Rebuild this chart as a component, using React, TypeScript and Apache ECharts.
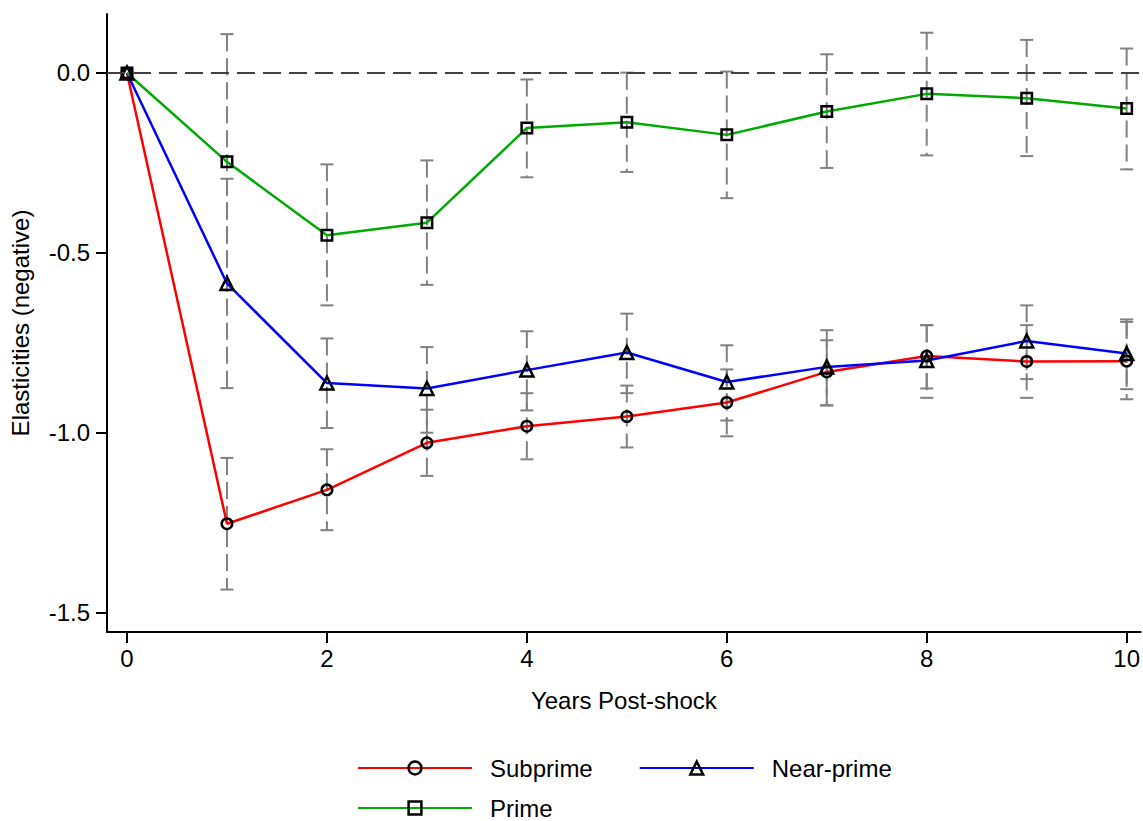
import React, { useEffect, useRef } from 'react';
import * as echarts from 'echarts';

const years = [0, 1, 2, 3, 4, 5, 6, 7, 8, 9, 10];
const xTicks = [0, 2, 4, 6, 8, 10];
const yTicks = [0, -0.5, -1, -1.5];

const subprime = [0, -1.253, -1.159, -1.028, -0.982, -0.955, -0.916, -0.831, -0.787, -0.802, -0.801];
const subprimeLow = [0, -1.436, -1.271, -1.12, -1.074, -1.041, -1.01, -0.924, -0.877, -0.903, -0.907];
const subprimeHigh = [0, -1.07, -1.046, -0.936, -0.89, -0.869, -0.824, -0.743, -0.701, -0.701, -0.692];

const nearPrime = [0, -0.585, -0.862, -0.877, -0.826, -0.777, -0.859, -0.817, -0.799, -0.745, -0.78];
const nearPrimeLow = [0, -0.876, -0.987, -1.0, -0.938, -0.89, -0.966, -0.924, -0.903, -0.851, -0.879];
const nearPrimeHigh = [0, -0.294, -0.738, -0.762, -0.718, -0.669, -0.757, -0.715, -0.701, -0.646, -0.685];

const prime = [0, -0.247, -0.451, -0.416, -0.153, -0.137, -0.172, -0.107, -0.058, -0.07, -0.099];
const primeLow = [0, -0.602, -0.646, -0.589, -0.29, -0.275, -0.348, -0.264, -0.229, -0.231, -0.268];
const primeHigh = [0, 0.108, -0.254, -0.243, -0.018, 0.001, 0.004, 0.052, 0.112, 0.092, 0.068];

const FONT = '"Liberation Sans", Arial, sans-serif';

export default function App() {
  const ref = useRef<HTMLDivElement>(null);
  useEffect(() => {
    document.body.style.margin = '0';
    const chart = echarts.init(ref.current!, undefined, { renderer: 'svg' });

    const ciData: number[][] = [];
    const groups = [
      [subprimeLow, subprimeHigh],
      [nearPrimeLow, nearPrimeHigh],
      [primeLow, primeHigh],
    ];
    groups.forEach(([lo, hi]) => {
      years.forEach((x, i) => {
        if (i > 0) ciData.push([x, lo[i], hi[i]]);
      });
    });

    const pairs = (vals: number[]) => years.map((x, i) => [x, vals[i]]);
    const marker = (symbol: string, size: number) => ({
      symbol,
      symbolSize: size,
      itemStyle: { color: 'rgba(255,255,255,0)', borderColor: '#000', borderWidth: 2.5 },
    });

    const legendText = { fontSize: 24, color: '#000', fontFamily: FONT, padding: [0, 0, 0, 13] };
    const legendItemStyle = { borderColor: '#000', borderWidth: 2.5 };

    const option: any = {
      animation: false,
      textStyle: { fontFamily: FONT },
      grid: { left: 107, top: 14, right: 0, bottom: 189, containLabel: false },
      legend: [
        {
          data: ['Subprime', 'Near-prime'],
          left: 357,
          top: 756,
          padding: 0,
          itemWidth: 114,
          itemHeight: 16,
          itemGap: 46,
          itemStyle: legendItemStyle,
          textStyle: legendText,
        },
        {
          data: ['Prime'],
          left: 357,
          top: 796,
          padding: 0,
          itemWidth: 114,
          itemHeight: 16,
          itemStyle: legendItemStyle,
          textStyle: legendText,
        },
      ],
      xAxis: {
        type: 'value',
        min: -0.2,
        max: 10.14,
        name: 'Years Post-shock',
        nameLocation: 'middle',
        nameGap: 56,
        nameTextStyle: { fontSize: 24, color: '#000', fontFamily: FONT },
        axisLine: { show: true, onZero: false, lineStyle: { color: '#000', width: 2 } },
        axisTick: { show: true, length: 11, customValues: xTicks, lineStyle: { color: '#000', width: 2 } },
        axisLabel: { customValues: xTicks, fontSize: 24, color: '#000', margin: 14, fontFamily: FONT },
        splitLine: { show: false },
      },
      yAxis: {
        type: 'value',
        min: -1.554,
        max: 0.164,
        name: 'Elasticities (negative)',
        nameLocation: 'middle',
        nameGap: 75,
        nameTextStyle: { fontSize: 24, color: '#000', fontFamily: FONT },
        axisLine: { show: true, onZero: false, lineStyle: { color: '#000', width: 2 } },
        axisTick: { show: true, length: 11, customValues: yTicks, lineStyle: { color: '#000', width: 2 } },
        axisLabel: {
          customValues: yTicks,
          fontSize: 24,
          color: '#000',
          margin: 17,
          fontFamily: FONT,
          formatter: (v: number) => v.toFixed(1),
        },
        splitLine: { show: false },
      },
      series: [
        {
          name: 'ci',
          type: 'custom',
          data: ciData,
          encode: { x: 0, y: [1, 2] },
          z: 1,
          renderItem: (params: any, api: any) => {
            const x = api.value(0);
            const pLo = api.coord([x, api.value(1)]);
            const pHi = api.coord([x, api.value(2)]);
            const hw = 6.5;
            const stroke = '#808080';
            return {
              type: 'group',
              children: [
                {
                  type: 'line',
                  shape: { x1: pHi[0], y1: pHi[1], x2: pLo[0], y2: pLo[1] },
                  style: { stroke, lineWidth: 2, lineDash: [17, 7] },
                },
                {
                  type: 'line',
                  shape: { x1: pHi[0] - hw, y1: pHi[1], x2: pHi[0] + hw, y2: pHi[1] },
                  style: { stroke, lineWidth: 2 },
                },
                {
                  type: 'line',
                  shape: { x1: pLo[0] - hw, y1: pLo[1], x2: pLo[0] + hw, y2: pLo[1] },
                  style: { stroke, lineWidth: 2 },
                },
              ],
            };
          },
          markLine: {
            silent: true,
            symbol: 'none',
            label: { show: false },
            lineStyle: { color: '#404040', width: 2.2, type: [18, 8] },
            data: [{ yAxis: 0 }],
          },
        },
        {
          name: 'Subprime',
          type: 'line',
          z: 3,
          data: pairs(subprime),
          lineStyle: { color: '#ff0000', width: 2.5 },
          ...marker('circle', 10.5),
        },
        {
          name: 'Near-prime',
          type: 'line',
          z: 3,
          data: pairs(nearPrime),
          lineStyle: { color: '#0000ff', width: 2.5 },
          ...marker('triangle', 13),
        },
        {
          name: 'Prime',
          type: 'line',
          z: 3,
          data: pairs(prime),
          lineStyle: { color: '#00aa00', width: 2.5 },
          ...marker('rect', 10.5),
        },
      ],
    };
    chart.setOption(option);
    return () => chart.dispose();
  }, []);
  return <div ref={ref} style={{ width: 1143, height: 821 }} />;
}
